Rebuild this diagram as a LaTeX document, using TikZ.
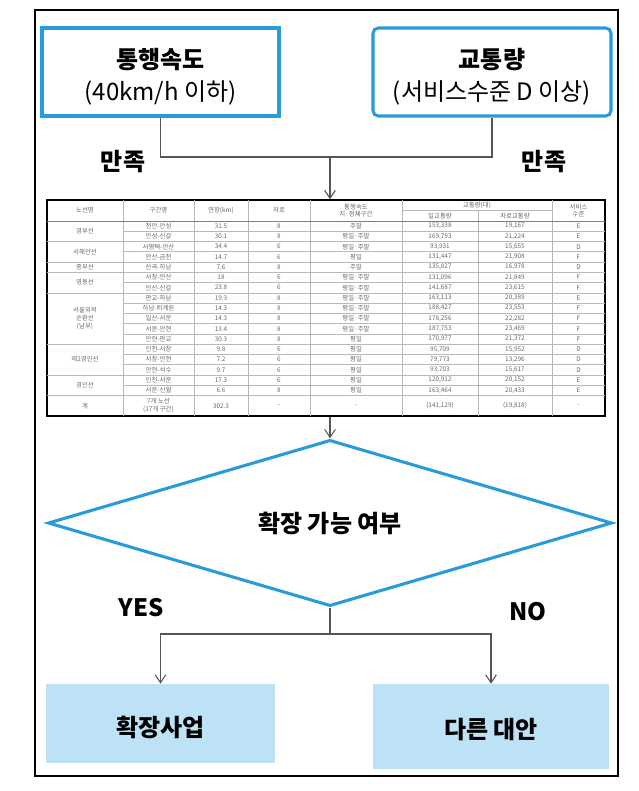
\documentclass[tikz,border=0pt]{standalone}
\usepackage{fontspec}
\setmainfont{Noto Sans CJK KR}
\usetikzlibrary{shapes.geometric,arrows.meta}
\definecolor{fblue}{RGB}{41,155,216}
\definecolor{lblue}{RGB}{190,226,245}
\definecolor{cline}{RGB}{85,85,85}
\definecolor{tgray}{RGB}{105,105,105}
\definecolor{tline}{RGB}{185,185,185}
\newcommand\trow[8]{%
  \pgfmathsetmacro\yy{221+(#1-0.5)*10.263}%
  \node[tc] (r#1b) at (158.5,\yy) {#2};
  \node[tc] (r#1c) at (221,\yy) {#3};
  \node[tc] (r#1d) at (279,\yy) {#4};
  \node[tc] (r#1e) at (356,\yy) {#5};
  \node[tc] (r#1f) at (440,\yy) {#6};
  \node[tc] (r#1g) at (515,\yy) {#7};
  \node[tc] (r#1h) at (578.5,\yy) {#8};
}
\begin{document}
\begin{tikzpicture}[x=0.75pt,y=-0.75pt,
  big/.style={font=\fontsize{18}{24}\selectfont},
  bigb/.style={font=\fontsize{18}{24}\selectfont\bfseries},
  topbox/.style={draw=fblue, line width=2.3pt, minimum height=66pt, inner sep=0pt},
  toptext/.style={align=center, inner sep=0pt, big},
  botbox/.style={fill=lblue, inner sep=0pt},
  conn/.style={draw=cline, line width=0.8pt},
  arr/.style={conn, -{Straight Barb[length=6pt,width=8pt]}},
  lbl/.style={bigb, inner sep=0pt},
  tc/.style={font=\fontsize{4.8}{5.8}\selectfont, text=tgray, inner sep=0pt, align=center},
  tl/.style={draw=tline, line width=0.5pt}]
\useasboundingbox (0,0) rectangle (638,791);
\draw[line width=0.8pt] (35,10) rectangle (618,776);

% top boxes
\node[topbox, minimum width=177.75pt] (b1) at (160.5,72) {};
\node[topbox, minimum width=178.5pt, rounded corners=4pt] (b2) at (492,72) {};
\node[toptext] (t1) at (160.5,77) {\textbf{통행속도}\\(40km/h 이하)};
\node[toptext] (t2) at (492,77) {\textbf{교통량}\\(서비스수준 D 이상)};
\node[lbl] (s1) at (123,162) {만족};
\node[lbl] (s2) at (544,162) {만족};

% table
\node[draw=black, line width=1.1pt, minimum width=418.5pt, minimum height=162pt, inner sep=0pt] (tbl) at (326,308) {};
\foreach \x in {123,194,248,310,402,552} \draw[tl] (\x,200) -- (\x,416);
\draw[tl] (478,210.5) -- (478,416);
\draw[tl] (402,210.5) -- (552,210.5);
\draw[draw=gray, line width=0.7pt] (47,221) -- (605,221);
\foreach \k in {1,3,6,8,9,10,11,13,14,16} \draw[tl] (123,{221+\k*10.263}) -- (605,{221+\k*10.263});
\foreach \k in {2,4,5,7,12,15,17} \draw[tl] (47,{221+\k*10.263}) -- (605,{221+\k*10.263});
% header
\node[tc] (ha) at (85,210.5) {노선명};
\node[tc] (hb) at (158.5,210.5) {구간명};
\node[tc] (hc) at (221,210.5) {연장(km)};
\node[tc] (hd) at (279,210.5) {차로};
\node[tc] (he) at (356,210.5) {통행속도\\지·정체구간};
\node[tc] (hf) at (477,205.3) {교통량(대)};
\node[tc] (hg) at (440,215.8) {일교통량};
\node[tc] (hh) at (515,215.8) {차로교통량};
\node[tc] (hi) at (578.5,210.5) {서비스\\수준};
% group names
\node[tc] (g1) at (85,{221+1*10.263}) {경부선};
\node[tc] (g2) at (85,{221+3*10.263}) {서해안선};
\node[tc] (g3) at (85,{221+4.5*10.263}) {중부선};
\node[tc] (g4) at (85,{221+6*10.263}) {영동선};
\node[tc] (g5) at (85,{221+9.5*10.263}) {서울외곽\\순환선\\(남부)};
\node[tc] (g6) at (85,{221+13.5*10.263}) {제2경인선};
\node[tc] (g7) at (85,{221+16*10.263}) {경인선};
\node[tc] (g8) at (85,{221+18*10.263}) {계};
\trow{1}{천안-안성}{31.5}{8}{주말}{153,338}{19,167}{E}
\trow{2}{안성-신갈}{30.1}{8}{평일·주말}{169,793}{21,224}{E}
\trow{3}{서평택-안산}{34.4}{6}{평일·주말}{93,931}{15,655}{D}
\trow{4}{안산-금천}{14.7}{6}{평일}{131,447}{21,908}{F}
\trow{5}{산곡-하남}{7.6}{8}{주말}{135,827}{16,978}{D}
\trow{6}{서창-안산}{18}{6}{평일·주말}{131,096}{21,849}{F}
\trow{7}{안산-신갈}{23.8}{6}{평일·주말}{141,687}{23,615}{F}
\trow{8}{판교-하남}{19.3}{8}{평일·주말}{163,113}{20,389}{E}
\trow{9}{하남-퇴계원}{14.3}{8}{평일·주말}{188,427}{23,553}{F}
\trow{10}{일산-서운}{14.3}{8}{평일·주말}{178,256}{22,282}{F}
\trow{11}{서운-안현}{13.4}{8}{평일·주말}{187,753}{23,469}{F}
\trow{12}{안현-판교}{30.3}{8}{평일}{170,977}{21,372}{F}
\trow{13}{인천-서창}{9.8}{6}{평일}{95,709}{15,952}{D}
\trow{14}{서창-안현}{7.2}{6}{평일}{79,773}{13,296}{D}
\trow{15}{안현-석수}{9.7}{6}{평일}{93,703}{15,617}{D}
\trow{16}{인천-서운}{17.3}{6}{평일}{120,912}{20,152}{E}
\trow{17}{서운-신월}{6.6}{8}{평일}{163,464}{20,433}{E}
\pgfmathsetmacro\yt{221+18*10.263}
\node[tc] (r18b) at (158.5,\yt) {7개 노선\\(17개 구간)};
\node[tc] (r18c) at (221,\yt) {302.3};
\node[tc] (r18d) at (279,\yt) {-};
\node[tc] (r18e) at (356,\yt) {-};
\node[tc] (r18f) at (440,\yt) {(141,129)};
\node[tc] (r18g) at (515,\yt) {(19,818)};
\node[tc] (r18h) at (578.5,\yt) {-};

% diamond and bottom boxes
\node[diamond, draw=fblue, line width=2.3pt, minimum width=423pt, minimum height=90pt, inner sep=0pt, bigb] (dia) at (330,523) {확장 가능 여부};
\node[botbox, minimum width=171.75pt, minimum height=59.25pt] (yes) at (160.5,723.5) {};
\node[botbox, minimum width=177pt, minimum height=63.75pt] (no) at (491,726.5) {};
\node[lbl] (ty) at (160.5,727) {확장사업};
\node[lbl] (tn) at (491,730) {다른 대안};
\node[lbl] (ly) at (141,608) {YES};
\node[lbl] (ln) at (528,612) {NO};

% connectors
\coordinate (j1) at (330,157);
\draw[conn] (b1.south) |- (j1) -| (b2.south);
\draw[arr] (j1) -- (j1 |- tbl.north);
\draw[arr] (dia.north |- tbl.south) -- (dia.north);
\coordinate (j2) at (330,634);
\draw[conn] (dia.south) -- (j2);
\draw[arr] (j2) -| (yes.north);
\draw[arr] (j2) -| (no.north);
\end{tikzpicture}
\end{document}
